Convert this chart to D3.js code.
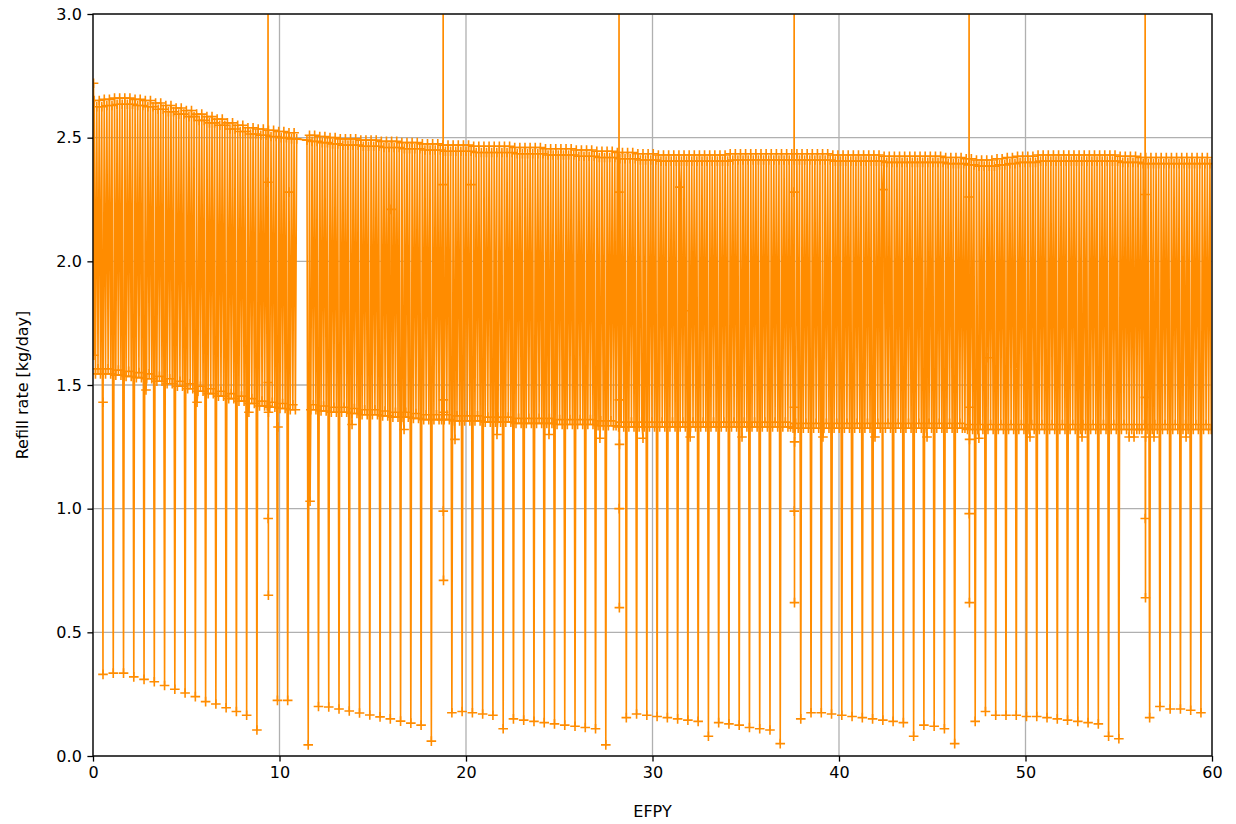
<!DOCTYPE html>
<html>
<head>
<meta charset="utf-8">
<script src="https://cdn.jsdelivr.net/npm/d3@7"></script>
<style>
body { margin: 0; background: #fff; }
text { font-family: "DejaVu Sans", sans-serif; }
</style>
</head>
<body>
<script>
// tick labels
var xTicks = [0, 10, 20, 30, 40, 50, 60];
var yTicks = [0.0, 0.5, 1.0, 1.5, 2.0, 2.5, 3.0];

// refill cycles: one deep dip every cycle, cycle k ends at cycleFirst + k * cycleLen (EFPY)
var cycleFirst = 0.536;
var cycleLen = 0.5502;

// upper level of each cycle [kg/day]
var high = [
  2.65, 2.655, 2.66, 2.66, 2.655, 2.65, 2.64, 2.63, 2.62, 2.61,
  2.595, 2.585, 2.575, 2.56, 2.55, 2.54, 2.535, 2.53, 2.525, 2.52,
  2.515, 2.51, 2.505, 2.50, 2.495, 2.495, 2.49, 2.49, 2.485, 2.485,
  2.48, 2.48, 2.475, 2.475, 2.47, 2.47, 2.47, 2.465, 2.465, 2.465,
  2.465, 2.46, 2.46, 2.46, 2.455, 2.455, 2.455, 2.45, 2.45, 2.445,
  2.445, 2.44, 2.44, 2.435, 2.435, 2.43, 2.43, 2.43, 2.43, 2.43,
  2.43, 2.43, 2.435, 2.435, 2.435, 2.435, 2.435, 2.435, 2.435, 2.435,
  2.435, 2.435, 2.43, 2.43, 2.43, 2.43, 2.43, 2.425, 2.425, 2.425,
  2.425, 2.425, 2.425, 2.42, 2.42, 2.415, 2.41, 2.41, 2.415, 2.42,
  2.425, 2.425, 2.43, 2.43, 2.43, 2.43, 2.43, 2.43, 2.43, 2.43,
  2.425, 2.425, 2.42, 2.42, 2.42, 2.42, 2.42, 2.42, 2.42
];

// second upper level, a little below the first
var high2 = [
  2.625, 2.63, 2.635, 2.635, 2.63, 2.625, 2.615, 2.605, 2.595, 2.585,
  2.57, 2.56, 2.55, 2.535, 2.525, 2.515, 2.51, 2.505, 2.50, 2.495,
  2.49, 2.485, 2.48, 2.475, 2.47, 2.47, 2.465, 2.465, 2.46, 2.46,
  2.455, 2.455, 2.45, 2.45, 2.445, 2.445, 2.445, 2.44, 2.44, 2.44,
  2.44, 2.435, 2.435, 2.435, 2.43, 2.43, 2.43, 2.425, 2.425, 2.42,
  2.42, 2.415, 2.415, 2.41, 2.41, 2.405, 2.405, 2.405, 2.405, 2.405,
  2.405, 2.405, 2.41, 2.41, 2.41, 2.41, 2.41, 2.41, 2.41, 2.41,
  2.41, 2.41, 2.405, 2.405, 2.405, 2.405, 2.405, 2.40, 2.40, 2.40,
  2.40, 2.40, 2.40, 2.395, 2.395, 2.39, 2.385, 2.385, 2.39, 2.395,
  2.40, 2.40, 2.405, 2.405, 2.405, 2.405, 2.405, 2.405, 2.405, 2.405,
  2.40, 2.40, 2.395, 2.395, 2.395, 2.395, 2.395, 2.395, 2.395
];

// lower level of each cycle
var low = [
  1.545, 1.545, 1.54, 1.535, 1.53, 1.525, 1.515, 1.505, 1.495, 1.485,
  1.475, 1.465, 1.455, 1.445, 1.435, 1.425, 1.415, 1.41, 1.405, 1.40,
  1.405, 1.40, 1.395, 1.39, 1.39, 1.385, 1.38, 1.38, 1.375, 1.37,
  1.37, 1.365, 1.36, 1.36, 1.36, 1.355, 1.355, 1.355, 1.35, 1.35,
  1.35, 1.345, 1.345, 1.345, 1.345, 1.34, 1.34, 1.34, 1.34, 1.335,
  1.335, 1.33, 1.33, 1.33, 1.33, 1.33, 1.33, 1.33, 1.33, 1.33,
  1.33, 1.33, 1.33, 1.33, 1.33, 1.33, 1.33, 1.33, 1.325, 1.325,
  1.325, 1.325, 1.325, 1.325, 1.325, 1.325, 1.325, 1.325, 1.325, 1.325,
  1.325, 1.325, 1.325, 1.325, 1.325, 1.32, 1.32, 1.32, 1.32, 1.32,
  1.32, 1.32, 1.32, 1.32, 1.32, 1.32, 1.32, 1.32, 1.32, 1.32,
  1.32, 1.32, 1.32, 1.32, 1.32, 1.32, 1.32, 1.32, 1.32
];

// second, slightly higher lower level
var low2 = [
  1.565, 1.565, 1.56, 1.555, 1.55, 1.545, 1.535, 1.525, 1.515, 1.505,
  1.495, 1.485, 1.475, 1.465, 1.455, 1.445, 1.435, 1.43, 1.425, 1.42,
  1.425, 1.42, 1.415, 1.41, 1.41, 1.405, 1.40, 1.40, 1.395, 1.39,
  1.39, 1.385, 1.38, 1.38, 1.38, 1.375, 1.375, 1.375, 1.37, 1.37,
  1.37, 1.365, 1.365, 1.365, 1.365, 1.36, 1.36, 1.36, 1.36, 1.355,
  1.355, 1.35, 1.35, 1.35, 1.35, 1.35, 1.35, 1.35, 1.35, 1.35,
  1.35, 1.35, 1.35, 1.35, 1.35, 1.35, 1.35, 1.35, 1.345, 1.345,
  1.345, 1.345, 1.345, 1.345, 1.345, 1.345, 1.345, 1.345, 1.345, 1.345,
  1.345, 1.345, 1.345, 1.345, 1.345, 1.34, 1.34, 1.34, 1.34, 1.34,
  1.34, 1.34, 1.34, 1.34, 1.34, 1.34, 1.34, 1.34, 1.34, 1.34,
  1.34, 1.34, 1.34, 1.34, 1.34, 1.34, 1.34, 1.34, 1.34
];

// deep dip at the end of each cycle (null = none)
var deep = [
  0.33, 0.335, 0.335, 0.32, 0.31, 0.30, 0.285, 0.27, 0.255, 0.24,
  0.22, 0.21, 0.195, 0.18, 0.165, 0.105, null, 0.225, 0.225, null,
  0.045, 0.20, 0.198, 0.19, 0.182, 0.174, 0.166, 0.158, 0.15, 0.141,
  0.133, 0.125, 0.06, null, 0.175, 0.18, 0.175, 0.17, 0.165, 0.11,
  0.15, 0.145, 0.14, 0.135, 0.13, 0.125, 0.12, 0.115, 0.11, 0.045,
  null, 0.155, 0.17, 0.165, 0.16, 0.155, 0.15, 0.145, 0.14, 0.08,
  0.135, 0.13, 0.125, 0.115, 0.11, 0.105, 0.05, null, 0.15, 0.175,
  0.175, 0.17, 0.165, 0.16, 0.155, 0.15, 0.145, 0.14, 0.135, 0.08,
  0.125, 0.12, 0.11, 0.05, null, 0.14, 0.18, 0.165, 0.165, 0.165,
  0.16, 0.16, 0.155, 0.15, 0.145, 0.14, 0.135, 0.13, 0.08, 0.07,
  1.29, null, 0.155, 0.20, 0.19, 0.19, 0.185, 0.175, null
];

// outages (refill rate jumps off scale)
var outageEfpy = [9.38, 18.77, 28.2, 37.59, 46.97, 56.41];
var outageVals = [
  [2.32, 3.6, 0.96, 1.51, 0.65, 1.39],
  [2.31, 3.6, 0.99, 1.44, 0.71, 1.39],
  [2.28, 3.6, 1.00, 1.44, 0.60, 1.26],
  [2.28, 3.6, 0.99, 1.41, 0.62, 1.27],
  [2.26, 3.6, 0.98, 1.41, 0.62, 1.28],
  [2.27, 3.6, 0.96, 1.45, 0.64, 1.29]
];

// isolated points
var extraX = [0.03, 0.05, 0.54, 2.84, 5.58, 8.36, 9.92, 10.51, 11.64, 13.89,
  15.98, 16.68, 19.41, 20.27, 21.66, 24.45, 27.18, 29.49, 31.47, 32.0,
  32.02, 34.8, 39.14, 41.93, 42.36, 44.72, 47.5, 47.99, 50.24, 53.03,
  55.82, 56.89, 58.61];
var extraY = [2.72, 1.62, 1.43, 1.48, 1.43, 1.39, 1.33, 2.28, 1.03, 1.34,
  2.21, 1.32, 1.28, 2.31, 1.30, 1.30, 1.285, 1.285, 2.30, 1.80,
  1.29, 1.29, 1.29, 1.29, 2.29, 1.29, 1.285, 1.61, 1.29, 1.29,
  1.29, 1.29, 1.29];

// no data in this stretch
var gap = [10.95, 11.45];

var width = 1236;
var height = 824;
var margin = { left: 93, right: 24, top: 14, bottom: 68 };
var color = '#ff8c00';
var fontSize = '16px';

// build the point sequence
var pts = [];
high.forEach(function (h, k) {
  var start = k === 0 ? 0 : cycleFirst + (k - 1) * cycleLen;
  var end = cycleFirst + k * cycleLen;
  var step = (end - start) / 8;
  [h, low[k], high2[k], low2[k], h, low[k], high2[k]].forEach(function (v, j) {
    pts.push([start + (j + 1) * step, v]);
  });
  pts.push([end, deep[k] == null ? low[k] : deep[k]]);
});
outageEfpy.forEach(function (e, o) {
  outageVals[o].forEach(function (v, i) { pts.push([e + i * 0.006, v]); });
});
extraX.forEach(function (x, i) { pts.push([x, extraY[i]]); });
pts = pts.filter(function (p) { return !(p[0] > gap[0] && p[0] < gap[1]); });
pts.sort(function (a, b) { return a[0] - b[0]; });

var x = d3.scaleLinear().domain([0, 60]).range([margin.left, width - margin.right]);
var y = d3.scaleLinear().domain([0, 3]).range([height - margin.bottom, margin.top]);

var svg = d3.select('body').append('svg')
  .attr('width', width)
  .attr('height', height);

// grid
svg.append('g').selectAll('line').data(xTicks).enter().append('line')
  .attr('x1', function (d) { return x(d); }).attr('x2', function (d) { return x(d); })
  .attr('y1', y(0)).attr('y2', y(3))
  .attr('stroke', '#b0b0b0').attr('stroke-width', 1.3);
svg.append('g').selectAll('line').data(yTicks).enter().append('line')
  .attr('y1', function (d) { return y(d); }).attr('y2', function (d) { return y(d); })
  .attr('x1', x(0)).attr('x2', x(60))
  .attr('stroke', '#b0b0b0').attr('stroke-width', 1.3);

svg.append('clipPath').attr('id', 'clip').append('rect')
  .attr('x', x(0)).attr('y', y(3))
  .attr('width', x(60) - x(0)).attr('height', y(0) - y(3));

var plot = svg.append('g').attr('clip-path', 'url(#clip)');

var line = d3.line()
  .x(function (d) { return x(d[0]); })
  .y(function (d) { return y(d[1]); });

plot.append('path')
  .datum(pts)
  .attr('d', line)
  .attr('fill', 'none')
  .attr('stroke', color)
  .attr('stroke-width', 1.6)
  .attr('stroke-linejoin', 'round');

plot.selectAll('path.mk').data(pts).enter().append('path')
  .attr('class', 'mk')
  .attr('d', function (d) {
    var cx = x(d[0]), cy = y(d[1]);
    return 'M' + (cx - 4.8) + ',' + cy + 'h9.6M' + cx + ',' + (cy - 4.8) + 'v9.6';
  })
  .attr('stroke', color)
  .attr('stroke-width', 1.6)
  .attr('fill', 'none');

// axes
var xAxis = svg.append('g')
  .attr('transform', 'translate(0,' + y(0) + ')')
  .call(d3.axisBottom(x).tickValues(xTicks).tickSize(5.6).tickPadding(5.2).tickFormat(d3.format('d')));
var yAxis = svg.append('g')
  .attr('transform', 'translate(' + x(0) + ',0)')
  .call(d3.axisLeft(y).tickValues(yTicks).tickSize(5.6).tickPadding(5.6).tickFormat(d3.format('.1f')));

[xAxis, yAxis].forEach(function (g) {
  g.select('.domain').remove();
  g.selectAll('line').attr('stroke', '#000').attr('stroke-width', 1.3);
  g.selectAll('text').attr('font-size', fontSize).attr('fill', '#000')
    .style('font-family', '"DejaVu Sans", sans-serif');
});

// frame
svg.append('rect')
  .attr('x', x(0)).attr('y', y(3))
  .attr('width', x(60) - x(0)).attr('height', y(0) - y(3))
  .attr('fill', 'none').attr('stroke', '#000').attr('stroke-width', 1.3);

svg.append('text')
  .attr('x', (x(0) + x(60)) / 2).attr('y', 817)
  .attr('text-anchor', 'middle').attr('font-size', fontSize)
  .text('EFPY');

svg.append('text')
  .attr('transform', 'translate(28,' + ((y(0) + y(3)) / 2) + ') rotate(-90)')
  .attr('text-anchor', 'middle').attr('font-size', fontSize)
  .text('Refill rate [kg/day]');
</script>
</body>
</html>
